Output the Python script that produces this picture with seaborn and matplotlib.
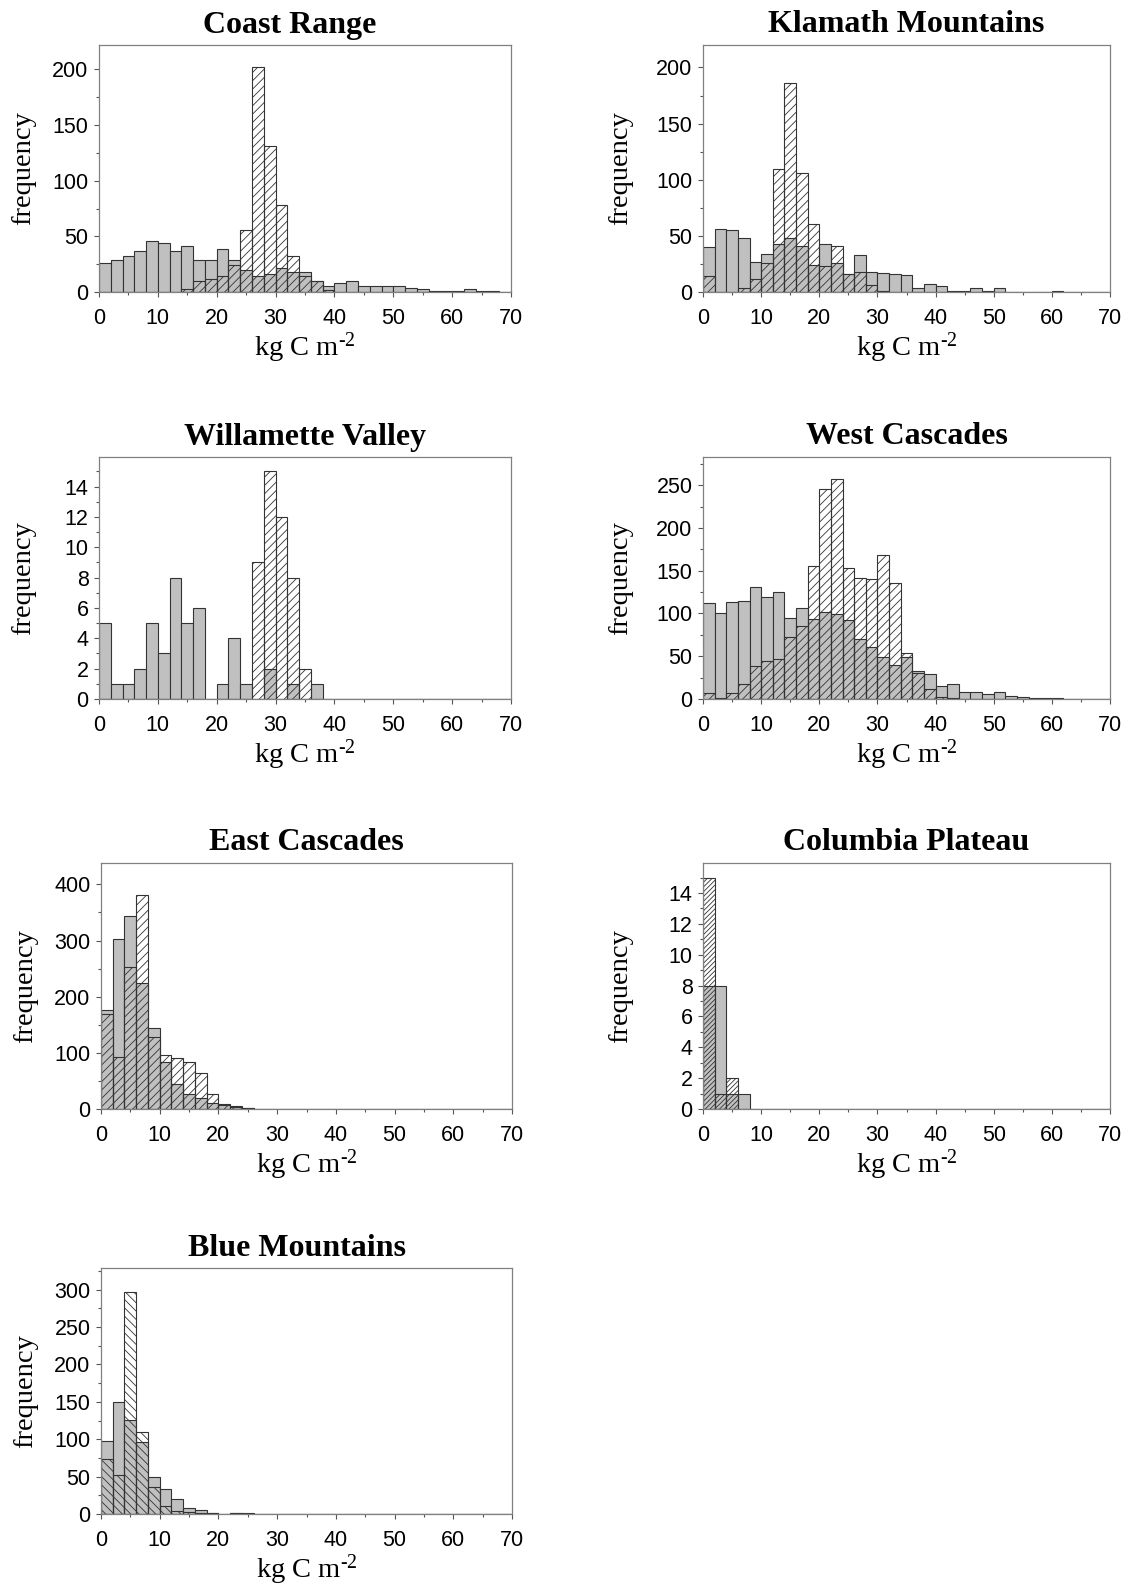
import numpy as np
import pandas as pd
import matplotlib
matplotlib.use("Agg")
import matplotlib.pyplot as plt
import seaborn as sns
from matplotlib.ticker import MultipleLocator

# 2 kg C m-2 bins from 0 to 70
bin_edges = np.arange(0, 72, 2)
bin_mids = bin_edges[:-1] + 1

# Frequencies per bin: grey = filled bars, hatched = overlaid hatched bars
coast_grey = [26, 29, 32, 37, 46, 44, 37, 41, 29, 29, 39, 29, 20, 14, 16, 22, 18, 18,
              10, 5, 8, 10, 5, 5, 5, 5, 4, 3, 1, 1, 1, 3, 1, 1, 0]
coast_hatch = [0, 0, 0, 0, 0, 0, 0, 3, 10, 12, 14, 24, 56, 202, 131, 78, 32, 14,
               10, 2, 0, 0, 0, 0, 0, 0, 0, 0, 0, 0, 0, 0, 0, 0, 0]

klamath_grey = [40, 56, 55, 48, 27, 34, 43, 48, 41, 24, 43, 26, 16, 33, 18, 17, 16, 15,
                4, 7, 5, 1, 1, 4, 1, 4, 0, 0, 0, 0, 1, 0, 0, 0, 0]
klamath_hatch = [14, 0, 0, 4, 12, 26, 110, 186, 106, 61, 23, 41, 16, 18, 6, 1, 0, 0,
                 0, 0, 0, 0, 0, 0, 0, 0, 0, 0, 0, 0, 0, 0, 0, 0, 0]

willamette_grey = [5, 1, 1, 2, 5, 3, 8, 5, 6, 0, 1, 4, 1, 0, 2, 0, 1, 0,
                   1, 0, 0, 0, 0, 0, 0, 0, 0, 0, 0, 0, 0, 0, 0, 0, 0]
willamette_hatch = [0, 0, 0, 0, 0, 0, 0, 0, 0, 0, 0, 0, 0, 9, 15, 12, 8, 2,
                    0, 0, 0, 0, 0, 0, 0, 0, 0, 0, 0, 0, 0, 0, 0, 0, 0]

wcasc_grey = [112, 100, 113, 115, 131, 119, 125, 95, 106, 94, 102, 99, 92, 70, 61, 49, 40, 49,
              33, 29, 15, 18, 8, 8, 6, 8, 4, 2, 1, 1, 1, 0, 0, 0, 0]
wcasc_hatch = [7, 1, 7, 18, 39, 44, 47, 73, 85, 156, 245, 257, 153, 142, 140, 168, 136, 54,
               30, 12, 2, 1, 0, 0, 0, 0, 0, 0, 0, 0, 0, 0, 0, 0, 0]

ecasc_grey = [176, 302, 343, 225, 145, 83, 44, 27, 20, 11, 9, 3, 2, 0, 0, 0, 0, 0,
              0, 0, 0, 0, 0, 0, 0, 0, 0, 0, 0, 0, 0, 0, 0, 0, 0]
ecasc_hatch = [170, 92, 252, 381, 129, 97, 91, 84, 64, 27, 7, 5, 1, 0, 0, 0, 0, 0,
               0, 0, 0, 0, 0, 0, 0, 0, 0, 0, 0, 0, 0, 0, 0, 0, 0]

columbia_grey = [8, 8, 1, 1, 0, 0, 0, 0, 0, 0, 0, 0, 0, 0, 0, 0, 0, 0,
                 0, 0, 0, 0, 0, 0, 0, 0, 0, 0, 0, 0, 0, 0, 0, 0, 0]
columbia_hatch = [15, 1, 2, 0, 0, 0, 0, 0, 0, 0, 0, 0, 0, 0, 0, 0, 0, 0,
                  0, 0, 0, 0, 0, 0, 0, 0, 0, 0, 0, 0, 0, 0, 0, 0, 0]

blue_grey = [97, 150, 126, 96, 49, 33, 20, 8, 6, 1, 0, 1, 0, 0, 0, 0, 0, 0,
             0, 0, 0, 0, 0, 0, 0, 0, 0, 0, 0, 0, 0, 0, 0, 0, 0]
blue_hatch = [74, 52, 297, 109, 36, 11, 4, 3, 1, 1, 0, 1, 1, 0, 0, 0, 0, 0,
              0, 0, 0, 0, 0, 0, 0, 0, 0, 0, 0, 0, 0, 0, 0, 0, 0]

titles = ["Coast Range", "Klamath Mountains", "Willamette Valley", "West Cascades",
          "East Cascades", "Columbia Plateau", "Blue Mountains"]
grey_series = [coast_grey, klamath_grey, willamette_grey, wcasc_grey,
               ecasc_grey, columbia_grey, blue_grey]
hatch_series = [coast_hatch, klamath_hatch, willamette_hatch, wcasc_hatch,
                ecasc_hatch, columbia_hatch, blue_hatch]
y_max = [222, 220, 15.95, 283, 438, 15.95, 329]
y_major = [50, 50, 2, 50, 100, 2, 50]
y_minor = [25, 25, 1, 25, 50, 1, 25]
hatch_styles = ["////", "////", "////", "////", "////", "///////", "\\\\\\\\"]
title_x = [0.464, 0.5, 0.5, 0.5, 0.5, 0.5, 0.476]

sns.set_theme(style="white")
plt.rcParams["font.family"] = ["Liberation Sans", "DejaVu Sans"]
plt.rcParams["text.color"] = "black"
plt.rcParams["axes.labelcolor"] = "black"
plt.rcParams["mathtext.fontset"] = "custom"
plt.rcParams["mathtext.rm"] = "Liberation Serif"
plt.rcParams["mathtext.it"] = "Liberation Serif:italic"
plt.rcParams["hatch.linewidth"] = 0.6

W, H = 1140, 1595
fig = plt.figure(figsize=(W / 100, H / 100), dpi=100)
fig.patch.set_facecolor("white")

# panel boxes in pixels: (left, top, right, bottom)
boxes = [
    (99, 45, 511, 292), (703, 45, 1110, 292),
    (99, 457, 511, 699), (703, 457, 1110, 699),
    (101, 863, 512, 1109), (703, 863, 1110, 1109),
    (101, 1268, 512, 1514),
]

serif = ["Liberation Serif", "DejaVu Serif"]

for i, (title, g, h) in enumerate(zip(titles, grey_series, hatch_series)):
    l, t, r, b = boxes[i]
    ax = fig.add_axes([l / W, 1 - b / H, (r - l) / W, (b - t) / H])

    df = pd.DataFrame({"carbon": bin_mids.astype(float),
                       "grey": np.asarray(g, dtype=float),
                       "hatched": np.asarray(h, dtype=float)})

    sns.histplot(data=df, x="carbon", weights="grey", binwidth=2, binrange=(0, 70),
                 ax=ax, color="#c0c0c0", edgecolor="#333333",
                 linewidth=0.8, alpha=1)
    sns.histplot(data=df, x="carbon", weights="hatched", binwidth=2, binrange=(0, 70),
                 ax=ax, facecolor="none", edgecolor="#333333", hatch=hatch_styles[i],
                 linewidth=0.8, alpha=1)

    ax.set_xlim(0, 70)
    ax.set_ylim(0, y_max[i])
    ax.xaxis.set_major_locator(MultipleLocator(10))
    ax.xaxis.set_minor_locator(MultipleLocator(5))
    ax.yaxis.set_major_locator(MultipleLocator(y_major[i]))
    ax.yaxis.set_minor_locator(MultipleLocator(y_minor[i]))

    ax.tick_params(which="both", direction="out", color="#555555", width=0.8,
                   labelcolor="black", labelsize=15.5,
                   bottom=True, left=True, top=False, right=False)
    ax.tick_params(which="major", length=3.5)
    ax.tick_params(which="minor", length=2)
    ax.tick_params(axis="x", which="major", pad=8)
    ax.tick_params(axis="y", which="major", pad=4)

    for sp in ax.spines.values():
        sp.set_color("#808080")
        sp.set_linewidth(0.9)
        sp.set_visible(True)

    ax.set_title(title, fontfamily=serif, fontweight="bold", fontsize=23, pad=9,
                 x=title_x[i], color="black")
    ax.set_xlabel(r"kg C m$^{\text{-2}}$", fontfamily=serif, fontsize=20.5, labelpad=1)
    ax.set_ylabel("frequency", fontfamily=serif, fontsize=20.5)
    if i % 2 == 0:
        ax.yaxis.set_label_coords(-0.153, 0.5)
    else:
        ax.yaxis.set_label_coords(-0.172, 0.5)

fig.savefig("out.png", dpi=100, facecolor="white")
